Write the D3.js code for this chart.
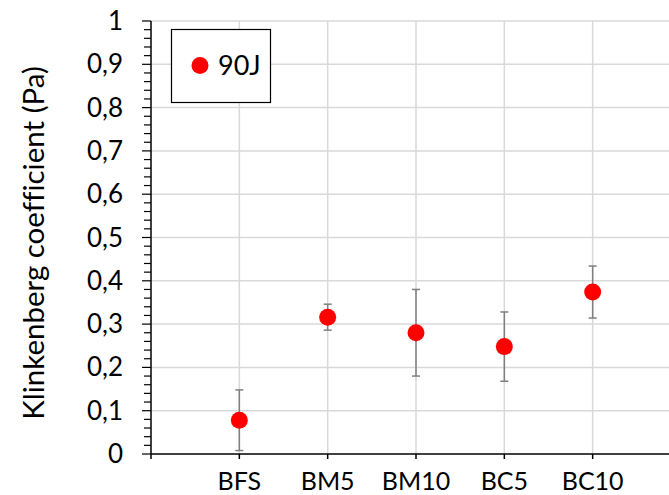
<!DOCTYPE html>
<html><head><meta charset="utf-8">
<script src="https://cdn.jsdelivr.net/npm/d3@7"></script>
<style>body{margin:0;background:#fff}svg{display:block}text{font-family:Lato,"Open Sans",sans-serif;font-variant-ligatures:none;font-feature-settings:"liga" 0}</style>
</head><body><svg id="c" width="669" height="495"></svg>
<script>
const categories = ["BFS","BM5","BM10","BC5","BC10"];
const values = [0.078, 0.316, 0.280, 0.248, 0.374];
const errors = [0.07, 0.03, 0.10, 0.08, 0.06];
const yTicks = [0,0.1,0.2,0.3,0.4,0.5,0.6,0.7,0.8,0.9,1];
const seriesName = "90J";

const svg = d3.select("#c");
const x = d3.scaleLinear().domain([0,6]).range([151,681]);
const y = d3.scaleLinear().domain([0,1]).range([454,21]);
const W = 669;

// grid
svg.append("g").selectAll("line").data(yTicks.filter(d=>d>0)).join("line")
  .attr("x1",151).attr("x2",W).attr("y1",d=>y(d)).attr("y2",d=>y(d))
  .attr("stroke","#d9d9d9").attr("stroke-width",1.5);
svg.append("g").selectAll("line").data(categories).join("line")
  .attr("x1",(d,i)=>x(i+1)).attr("x2",(d,i)=>x(i+1)).attr("y1",y(1)).attr("y2",y(0))
  .attr("stroke","#d9d9d9").attr("stroke-width",1.5);

// y axis
const minor = d3.range(0,51).map(i=>i/50);
svg.append("g").selectAll("line").data(minor).join("line")
  .attr("x1",d=>Math.round(d*50)%5===0?142:144).attr("x2",151)
  .attr("y1",d=>y(d)).attr("y2",d=>y(d)).attr("stroke","#000").attr("stroke-width",1.2);
svg.append("line").attr("x1",151).attr("x2",151).attr("y1",y(1)).attr("y2",y(0)).attr("stroke","#000").attr("stroke-width",1.5);
svg.append("g").selectAll("text").data(yTicks).join("text")
  .attr("x",123).attr("y",d=>y(d)+9).attr("text-anchor","end")
  .attr("font-size",26).attr("fill","#000")
  .text(d=>d3.format(".1~f")(d).replace(".",","));

// x axis
svg.append("line").attr("x1",151).attr("x2",W).attr("y1",y(0)).attr("y2",y(0)).attr("stroke","#000").attr("stroke-width",1.5);
svg.append("g").selectAll("line").data(d3.range(0,6)).join("line")
  .attr("x1",d=>x(d)).attr("x2",d=>x(d)).attr("y1",y(0)).attr("y2",y(0)+5)
  .attr("stroke","#000").attr("stroke-width",1.5);
svg.append("g").selectAll("text").data(categories).join("text")
  .attr("x",(d,i)=>x(i+1)).attr("y",490).attr("text-anchor","middle")
  .attr("font-size",25).attr("fill","#000").text(d=>d);

// axis title
svg.append("text").attr("transform","translate(44,243) rotate(-90)")
  .attr("text-anchor","middle").attr("font-size",29.5).attr("fill","#000")
  .text("Klinkenberg coefficient (Pa)");

// error bars
const eb = svg.append("g").attr("stroke","#7f7f7f").attr("stroke-width",1.5);
categories.forEach((c,i)=>{
  const cx = x(i+1);
  eb.append("line").attr("x1",cx).attr("x2",cx).attr("y1",y(values[i]+errors[i])).attr("y2",y(values[i]-errors[i]));
  [values[i]+errors[i], values[i]-errors[i]].forEach(v=>{
    eb.append("line").attr("x1",cx-4).attr("x2",cx+4).attr("y1",y(v)).attr("y2",y(v));
  });
});

// points
svg.append("g").selectAll("circle").data(values).join("circle")
  .attr("cx",(d,i)=>x(i+1)).attr("cy",d=>y(d)).attr("r",8.5).attr("fill","#ff0000");

// legend
svg.append("rect").attr("x",171.5).attr("y",29.5).attr("width",99).attr("height",73)
  .attr("fill","#fff").attr("stroke","#000").attr("stroke-width",1.2);
svg.append("circle").attr("cx",200).attr("cy",65.5).attr("r",8.5).attr("fill","#ff0000");
svg.append("text").attr("x",218).attr("y",75).attr("font-size",27).attr("fill","#000").text(seriesName);
</script></body></html>
